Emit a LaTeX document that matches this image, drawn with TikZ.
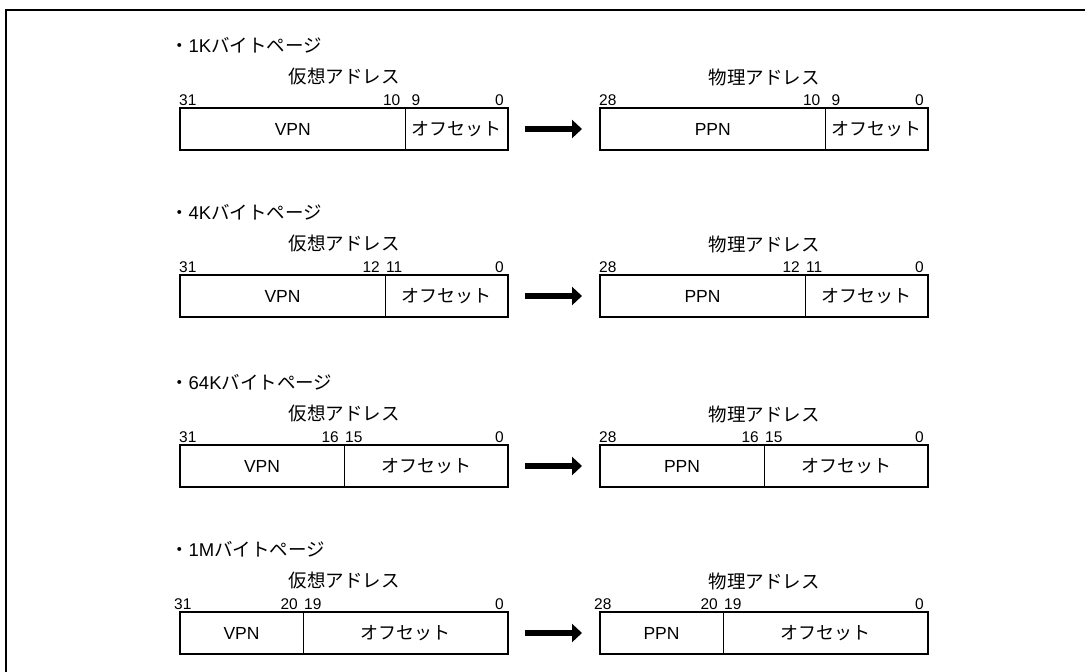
\documentclass[tikz,border=0pt]{standalone}
\usepackage{fontspec}
\setmainfont{Liberation Sans}
\newfontfamily\jp{Noto Sans CJK JP}
\usetikzlibrary{arrows.meta}
\tikzset{
  field/.style={draw, line width=0.8pt, minimum height=42pt, inner sep=0pt, outer sep=0pt, font=\fontsize{17.5}{20}\selectfont},
  jpfield/.style={font=\fontsize{18}{20}\selectfont\jp},
  outerbox/.style={line width=2pt},
  num/.style={inner sep=0pt, font=\fontsize{15.5}{18}\selectfont},
  ttl/.style={inner sep=0pt, font=\fontsize{18.5}{22}\selectfont},
  bigarrow/.style={line width=5.5pt, -{Triangle[length=10pt,width=18pt]}, shorten <=17pt, shorten >=18pt},
  frameline/.style={line width=2.5pt}
}
\begin{document}
\begin{tikzpicture}[x=1pt,y=-1pt]
\useasboundingbox (0,0) rectangle (1085,672);
\draw[frameline] (6,680) -- (6,10) -- (1090,10);
\foreach \ri/\rtop/\rbits/\rsz/\rhi/\rlo/\rlg/\rls in {1/108/10/1K/10/9/6/0, 2/275/12/4K/12/11/1/0, 3/445/16/64K/16/15/1/0, 4/612/20/1M/20/19/1/5}{
  \pgfmathsetmacro\vdiv{508-10.25*\rbits}
  \pgfmathsetmacro\pdiv{928-10.25*\rbits}
  \pgfmathsetmacro\wvn{\vdiv-180}
  \pgfmathsetmacro\wvo{508-\vdiv}
  \pgfmathsetmacro\wpn{\pdiv-600}
  \pgfmathsetmacro\wpo{928-\pdiv}
  % virtual address
  \node[field, minimum width=\wvn pt, anchor=north west] (v\ri-n) at (180,\rtop) {VPN};
  \node[field, jpfield, minimum width=\wvo pt, anchor=north west] (v\ri-o) at (\vdiv,\rtop) {オフセット};
  \draw[outerbox] (v\ri-n.north west) rectangle (v\ri-o.south east);
  % physical address
  \node[field, minimum width=\wpn pt, anchor=north west] (p\ri-n) at (600,\rtop) {PPN};
  \node[field, jpfield, minimum width=\wpo pt, anchor=north west] (p\ri-o) at (\pdiv,\rtop) {オフセット};
  \draw[outerbox] (p\ri-n.north west) rectangle (p\ri-o.south east);
  % titles
  \node[ttl, anchor=west] (t\ri) at (170,\rtop-63) {{\jp ・}\rsz{\jp バイトページ}};
  \node[ttl] (vt\ri) at (344,\rtop-31) {\jp 仮想アドレス};
  \node[ttl] (pt\ri) at (764,\rtop-31) {\jp 物理アドレス};
  % bit numbers
  \node[num, anchor=base west] (va\ri) at (179-\rls,\rtop-3) {31};
  \node[num, anchor=base east] (vb\ri) at (\vdiv-5,\rtop-3) {\rhi};
  \node[num, anchor=base west] (vc\ri) at (\vdiv+\rlg,\rtop-3) {\rlo};
  \node[num, anchor=base east] (vd\ri) at (504,\rtop-3) {0};
  \node[num, anchor=base west] (pa\ri) at (599-\rls,\rtop-3) {28};
  \node[num, anchor=base east] (pb\ri) at (\pdiv-5,\rtop-3) {\rhi};
  \node[num, anchor=base west] (pc\ri) at (\pdiv+\rlg,\rtop-3) {\rlo};
  \node[num, anchor=base east] (pd\ri) at (924,\rtop-3) {0};
  % arrow
  \draw[bigarrow] (v\ri-o.east) -- (p\ri-n.west);
}
\end{tikzpicture}
\end{document}
